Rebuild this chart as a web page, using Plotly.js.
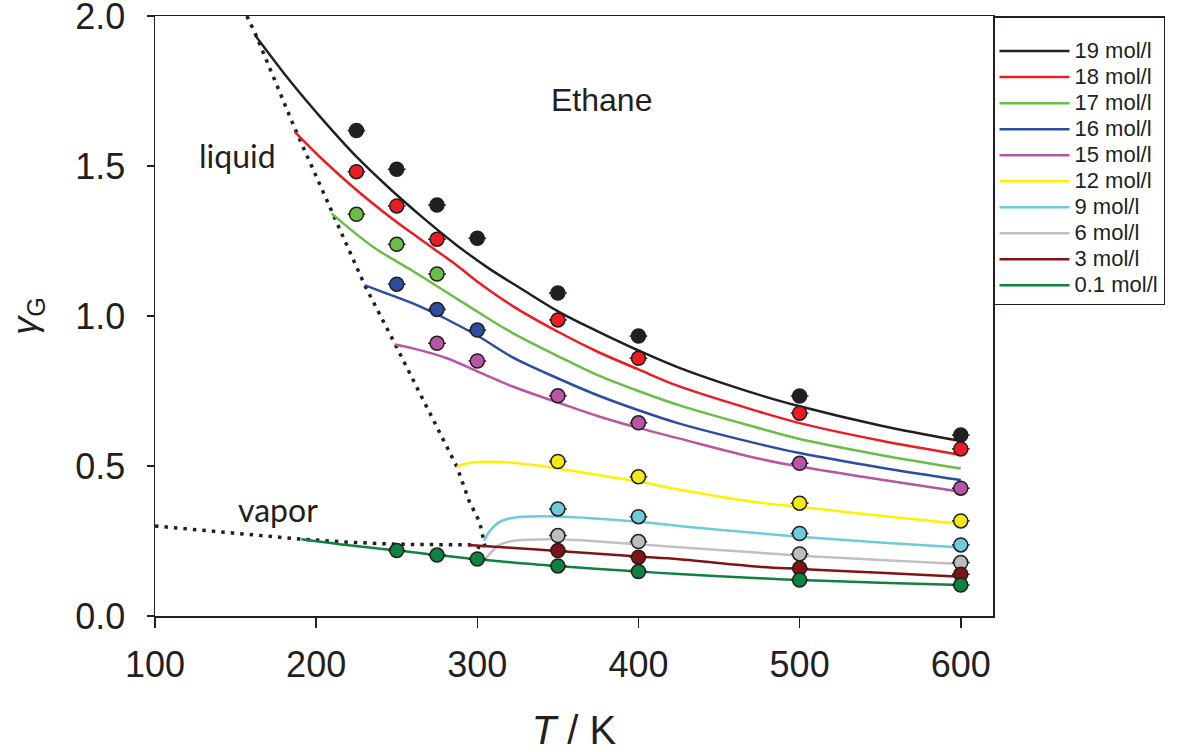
<!DOCTYPE html>
<html>
<head>
<meta charset="utf-8">
<script src="https://cdn.plot.ly/plotly-3.0.1.min.js"></script>
<style>html,body{margin:0;padding:0;background:#fff;}#chart{width:1185px;height:752px;}</style>
</head>
<body>
<div id="chart"></div>
<script>
// ---- data ----
const seriesLabels = ['19 mol/l','18 mol/l','17 mol/l','16 mol/l','15 mol/l','12 mol/l','9 mol/l','6 mol/l','3 mol/l','0.1 mol/l'];
const seriesColors = ['#231f20','#ed1c24','#6abd45','#2b4ea2','#b855a4','#fff200','#6dcbdc','#c0c0c0','#7f1416','#0f8140'];
const markerColors = ['#231f20','#ed1c24','#6abd45','#2b4ea2','#b855a4','#f4e918','#6dcbdc','#bdbdbd','#7f1416','#0f8140'];

// model curves (T in K, gamma_G)
const line19T = [162,183.6,204.3,225,245.6,266.2,287,307.6,326,350.9,375,400,425,475,500,550,600];
const line19G = [1.937,1.785,1.653,1.531,1.425,1.328,1.237,1.157,1.095,1.013,0.948,0.885,0.828,0.737,0.699,0.635,0.583];
const line18T = [186.7,204.3,225,245.6,266.2,287,301.4,322,350.9,375,400,425,475,500,550,600];
const line18G = [1.614,1.52,1.42,1.331,1.25,1.17,1.109,1.033,0.945,0.88,0.822,0.766,0.681,0.643,0.585,0.537];
const line17T = [209.5,235.2,260,280.7,301.4,322,350.9,375,400,425,475,500,550,600];
const line17G = [1.342,1.231,1.15,1.08,1.01,0.943,0.864,0.802,0.75,0.703,0.626,0.59,0.537,0.492];
const line16T = [230.1,239.4,260,280.7,301.4,322,350.9,375,400,425,475,500,550,600];
const line16G = [1.103,1.084,1.042,0.99,0.93,0.862,0.79,0.735,0.686,0.642,0.573,0.543,0.495,0.453];
const line15T = [248.7,260,280.7,301.4,322,342.7,350.9,375,400,425,475,500,550,600];
const line15G = [0.905,0.892,0.86,0.812,0.765,0.725,0.71,0.666,0.627,0.592,0.524,0.498,0.455,0.414];
const line12T = [287.3,295,307.6,320,335,350,375,400,425,475,500,550,600];
const line12G = [0.498,0.51,0.514,0.512,0.503,0.492,0.47,0.448,0.422,0.378,0.364,0.334,0.307];
const line9T = [304.2,308,313.8,320,328,350,400,425,475,500,550,600];
const line9G = [0.251,0.285,0.314,0.325,0.331,0.332,0.314,0.3,0.276,0.264,0.245,0.228];
const line6T = [305.3,309,313.8,320,328,350,400,425,475,500,550,600];
const line6G = [0.192,0.215,0.237,0.248,0.253,0.256,0.239,0.229,0.211,0.201,0.187,0.173];
const line3T = [294.4,325,350,400,425,475,500,550,600];
const line3G = [0.237,0.226,0.217,0.198,0.189,0.164,0.157,0.144,0.131];
const line01T = [190.9,220,249.7,275.5,300.3,325,344.7,400,425,475,500,550,600];
const line01G = [0.256,0.236,0.219,0.203,0.189,0.177,0.168,0.148,0.14,0.126,0.12,0.111,0.103];

// measured points
const pts19T = [225,250,275,300,350,400,500,600];
const pts19G = [1.618,1.489,1.37,1.259,1.077,0.933,0.733,0.603];
const pts18T = [225,250,275,350,400,500,600];
const pts18G = [1.481,1.367,1.256,0.987,0.859,0.676,0.557];
const pts17T = [225,250,275];
const pts17G = [1.339,1.239,1.14];
const pts16T = [250,275,300];
const pts16G = [1.106,1.022,0.953];
const pts15T = [275,300,350,400,500,600];
const pts15G = [0.909,0.85,0.734,0.644,0.509,0.426];
const pts12T = [350,400,500,600];
const pts12G = [0.515,0.464,0.376,0.317];
const pts9T = [350,400,500,600];
const pts9G = [0.357,0.331,0.275,0.237];
const pts6T = [350,400,500,600];
const pts6G = [0.268,0.248,0.207,0.178];
const pts3T = [350,400,500,600];
const pts3G = [0.218,0.196,0.159,0.139];
const pts01T = [250,275,300,350,400,500,600];
const pts01G = [0.218,0.203,0.19,0.167,0.148,0.12,0.103];

// coexistence boundaries (dotted)
const liquidT = [157,162.6,186.7,209.5,230.1,248.7,273.5,284.4,287.3,295.1,301.4,305.3];
const liquidG = [2.0,1.937,1.626,1.348,1.103,0.909,0.648,0.533,0.498,0.381,0.314,0.22];
const vaporT = [100,146.5,190.9,220,250,297,302.3,305.3];
const vaporG = [0.30,0.276,0.256,0.246,0.239,0.237,0.226,0.22];

const lineT = [line19T,line18T,line17T,line16T,line15T,line12T,line9T,line6T,line3T,line01T];
const lineG = [line19G,line18G,line17G,line16G,line15G,line12G,line9G,line6G,line3G,line01G];
const ptsT = [pts19T,pts18T,pts17T,pts16T,pts15T,pts12T,pts9T,pts6T,pts3T,pts01T];
const ptsG = [pts19G,pts18G,pts17G,pts16G,pts15G,pts12G,pts9G,pts6G,pts3G,pts01G];

// ---- traces ----
const ink = '#231f20';
const traces = [];
traces.push({x: liquidT, y: liquidG, mode:'lines', line:{color:ink, width:3.5, dash:'3.5px,6px'}, showlegend:false, hoverinfo:'skip'});
traces.push({x: vaporT, y: vaporG, mode:'lines', line:{color:ink, width:3.5, dash:'3.5px,6px'}, showlegend:false, hoverinfo:'skip'});
for (let i = 0; i < seriesLabels.length; i++) {
  traces.push({x: lineT[i], y: lineG[i], mode:'lines',
    name: '<span style="font-size:22px">' + seriesLabels[i] + '</span>', legendgroup: seriesLabels[i],
    line:{color: seriesColors[i], width: 2.5, shape:'spline', smoothing:1}});
}
for (let i = 0; i < seriesLabels.length; i++) {
  traces.push({x: ptsT[i], y: ptsG[i], mode:'markers', name: seriesLabels[i], legendgroup: seriesLabels[i], showlegend:false,
    marker:{color: markerColors[i], size:14, line:{color: ink, width:1.5}},
    error_x:{type:'constant', value:5.5, thickness:1.5, width:0, color: ink}});
}

const fam = 'Liberation Sans, Arial, sans-serif';
const tickFont = {family: fam, size:36, color: ink};
const layout = {
  width:1185, height:752,
  margin:{l:155, r:192, t:16, b:136, autoexpand:false},
  paper_bgcolor:'#fff', plot_bgcolor:'#fff',
  showlegend:true,
  xaxis:{range:[100,620], tickvals:[100,200,300,400,500,600], ticktext:['100','200','300','400','500','600'],
    showgrid:false, zeroline:false, showline:true, linecolor:ink, linewidth:1.5, mirror:true,
    ticks:'outside', ticklen:10, tickwidth:1.5, tickcolor:ink, tickfont:tickFont, ticklabelstandoff:6,
    ticklabeloverflow:'allow',
    title:{text:'<i>T</i> / K', font:{family: fam, size:40, color:ink}, standoff:34}},
  yaxis:{range:[0,2], tickvals:[0,0.5,1,1.5,2], ticktext:['0.0','0.5','1.0','1.5','2.0'],
    showgrid:false, zeroline:false, showline:true, linecolor:ink, linewidth:1.5, mirror:true,
    ticks:'outside', ticklen:7, tickwidth:1.5, tickcolor:ink, tickfont:tickFont, ticklabelstandoff:14,
    ticklabeloverflow:'allow',
    title:{text:'<i>γ</i><sub>G</sub>', font:{family: fam, size:36, color:ink}, standoff:26}},
  legend:{x:1, xanchor:'left', y:1, yanchor:'top', bgcolor:'#fff', bordercolor:ink, borderwidth:1.5,
    font:{family: fam, size:17.7, color:ink},
    title:{text:' ', font:{family: fam, size:12}},
    traceorder:'normal', itemwidth:70},
  annotations:[
    {x:377, y:1.72, xref:'x', yref:'y', text:'Ethane', showarrow:false, font:{family: fam, size:32, color:ink}},
    {x:151.4, y:1.535, xref:'x', yref:'y', text:'liquid', showarrow:false, font:{family:'Lato, sans-serif', size:32, color:ink}},
    {x:176.2, y:0.355, xref:'x', yref:'y', text:'vapor', showarrow:false, font:{family:'Lato, sans-serif', size:32, color:ink}}
  ]
};
Plotly.newPlot('chart', traces, layout, {displayModeBar:false, staticPlot:true});
</script>
</body>
</html>
